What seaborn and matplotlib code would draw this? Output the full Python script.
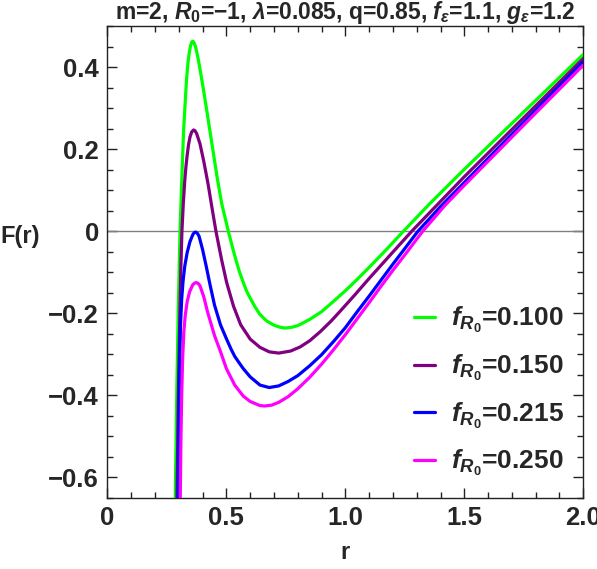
import matplotlib
matplotlib.use("Agg")
import matplotlib.pyplot as plt
from matplotlib.ticker import MultipleLocator, FixedLocator, FixedFormatter
import numpy as np
import pandas as pd
import seaborn as sns

# values
r_green = [0.283, 0.285, 0.292, 0.298, 0.305, 0.312, 0.320, 0.332, 0.338, 0.343,
           0.349, 0.355, 0.360, 0.365, 0.370, 0.375, 0.382, 0.390, 0.405, 0.420,
           0.440, 0.460, 0.480, 0.508, 0.525, 0.540, 0.555, 0.571, 0.585, 0.600,
           0.620, 0.641, 0.670, 0.700, 0.725, 0.747, 0.775, 0.800, 0.850, 0.900,
           0.950, 1.000, 1.050, 1.100, 1.170, 1.244, 1.356, 1.500, 1.750, 2.000]
F_green = [-0.70, -0.648, -0.37, -0.18, 0.0, 0.12, 0.245, 0.367, 0.408, 0.432,
           0.452, 0.462, 0.463, 0.458, 0.450, 0.438, 0.418, 0.392, 0.34, 0.285,
           0.21, 0.135, 0.068, 0.0, -0.038, -0.07, -0.099, -0.125, -0.146, -0.163,
           -0.184, -0.203, -0.219, -0.229, -0.234, -0.236, -0.234, -0.230, -0.215, -0.196,
           -0.171, -0.145, -0.117, -0.088, -0.046, 0.0, 0.068, 0.151, 0.291, 0.431]

r_purple = [0.290, 0.292, 0.298, 0.304, 0.309, 0.313, 0.319, 0.325, 0.330, 0.335,
            0.341, 0.347, 0.354, 0.362, 0.368, 0.375, 0.389, 0.405, 0.423, 0.440,
            0.456, 0.480, 0.501, 0.530, 0.560, 0.600, 0.641, 0.680, 0.720, 0.770,
            0.810, 0.850, 0.894, 0.940, 0.978, 1.040, 1.100, 1.190, 1.279, 1.500,
            1.750, 2.000]
F_purple = [-0.70, -0.648, -0.40, -0.21, -0.08, 0.0, 0.07, 0.124, 0.158, 0.185,
            0.212, 0.23, 0.242, 0.247, 0.245, 0.238, 0.213, 0.17, 0.115, 0.055,
            0.0, -0.07, -0.125, -0.183, -0.228, -0.263, -0.283, -0.294, -0.297, -0.292,
            -0.282, -0.267, -0.245, -0.219, -0.195, -0.155, -0.115, -0.057, 0.0, 0.133,
            0.277, 0.421]

r_blue = [0.295, 0.297, 0.300, 0.303, 0.307, 0.312, 0.318, 0.325, 0.335, 0.347,
          0.359, 0.365, 0.371, 0.378, 0.385, 0.400, 0.415, 0.431, 0.450, 0.475,
          0.500, 0.520, 0.535, 0.555, 0.571, 0.600, 0.641, 0.680, 0.720, 0.760,
          0.800, 0.850, 0.900, 0.950, 1.000, 1.050, 1.100, 1.150, 1.200, 1.250,
          1.305, 1.400, 1.500, 1.750, 2.000]
F_blue = [-0.70, -0.648, -0.47, -0.33, -0.23, -0.165, -0.12, -0.085, -0.052, -0.025,
          -0.008, -0.003, -0.002, -0.005, -0.012, -0.045, -0.085, -0.13, -0.18, -0.228,
          -0.262, -0.288, -0.305, -0.322, -0.335, -0.355, -0.375, -0.381, -0.377, -0.366,
          -0.352, -0.328, -0.301, -0.269, -0.235, -0.196, -0.158, -0.119, -0.080, -0.042,
          0.0, 0.060, 0.119, 0.266, 0.413]

r_magenta = [0.303, 0.306, 0.309, 0.312, 0.316, 0.321, 0.327, 0.335, 0.345, 0.358,
             0.365, 0.373, 0.381, 0.389, 0.405, 0.420, 0.435, 0.451, 0.473, 0.500,
             0.535, 0.571, 0.600, 0.641, 0.660, 0.690, 0.720, 0.760, 0.800, 0.850,
             0.900, 0.950, 1.000, 1.050, 1.100, 1.150, 1.200, 1.260, 1.325, 1.420,
             1.500, 1.750, 2.000]
F_magenta = [-0.70, -0.648, -0.50, -0.40, -0.31, -0.245, -0.205, -0.172, -0.148, -0.131,
             -0.127, -0.125, -0.127, -0.133, -0.16, -0.195, -0.225, -0.256, -0.29, -0.335,
             -0.375, -0.402, -0.415, -0.425, -0.426, -0.424, -0.417, -0.403, -0.384, -0.356,
             -0.324, -0.289, -0.252, -0.213, -0.174, -0.134, -0.095, -0.050, 0.0, 0.064,
             0.112, 0.259, 0.405]

labels = [r"$f_{R_0}$=0.100", r"$f_{R_0}$=0.150", r"$f_{R_0}$=0.215", r"$f_{R_0}$=0.250"]
colors = ["#00ff00", "#800080", "#0000ff", "#ff00ff"]

x_ticks = [0, 0.5, 1.0, 1.5, 2.0]
x_tick_labels = ["0", "0.5", "1.0", "1.5", "2.0"]
y_ticks = [-0.6, -0.4, -0.2, 0, 0.2, 0.4]
y_tick_labels = ["\u22120.6", "\u22120.4", "\u22120.2", "0", "0.2", "0.4"]

title = ("m=2, $R_0$=\u22121, $\\lambda$=0.085, q=0.85, "
         "$f_\\epsilon$=1.1, $g_\\epsilon$=1.2")

# long table for seaborn
frames = []
for r, F, lab in zip([r_green, r_purple, r_blue, r_magenta],
                     [F_green, F_purple, F_blue, F_magenta], labels):
    frames.append(pd.DataFrame({"r": r, "F": F, "curve": lab}))
df = pd.concat(frames, ignore_index=True)

sns.set_style("ticks")
plt.rcParams["font.family"] = ["Liberation Sans", "DejaVu Sans"]
plt.rcParams["font.weight"] = "bold"
plt.rcParams["mathtext.fontset"] = "custom"
plt.rcParams["mathtext.rm"] = "Liberation Sans:bold"
plt.rcParams["mathtext.it"] = "Liberation Sans:italic:bold"
plt.rcParams["mathtext.bf"] = "Liberation Sans:bold"
plt.rcParams["mathtext.sf"] = "Liberation Sans:bold"

fig = plt.figure(figsize=(5.97, 5.69), dpi=100)
ax = fig.add_axes([0.180, 0.125, 0.797, 0.829])

ax.axhline(0, color="#808080", lw=1.0, zorder=1)
sns.lineplot(data=df, x="r", y="F", hue="curve", palette=colors,
             estimator=None, sort=False, linewidth=2.3, ax=ax, zorder=3)

ax.set_xlim(0, 2.0)
ax.set_ylim(-0.65, 0.5)

ax.xaxis.set_major_locator(FixedLocator(x_ticks))
ax.xaxis.set_major_formatter(FixedFormatter(x_tick_labels))
ax.yaxis.set_major_locator(FixedLocator(y_ticks))
ax.yaxis.set_major_formatter(FixedFormatter(y_tick_labels))
ax.xaxis.set_minor_locator(MultipleLocator(0.1))
ax.yaxis.set_minor_locator(MultipleLocator(0.05))
ax.tick_params(which="both", direction="in", top=True, right=True,
               color="#222222", width=1.0, labelsize=18.5, pad=6)
ax.tick_params(which="major", length=7)
ax.tick_params(which="minor", length=4)
for s in ax.spines.values():
    s.set_color("#222222")
    s.set_linewidth(1.0)

ax.set_xlabel("r", fontsize=17, fontweight="bold", labelpad=8)
ax.set_ylabel("F(r)", fontsize=17, fontweight="bold", rotation=0, labelpad=0)
ax.yaxis.set_label_coords(-0.184, 0.53)
ax.set_title(title, fontsize=16.5, fontweight="bold", pad=4)

handles, labs = ax.get_legend_handles_labels()
ax.legend(handles, labs, loc="center left", bbox_to_anchor=(0.617, 0.225),
          frameon=False, fontsize=19, handlelength=0.8, handletextpad=0.6,
          labelspacing=0.66, borderpad=0)

fig.savefig("out.png", dpi=100)
